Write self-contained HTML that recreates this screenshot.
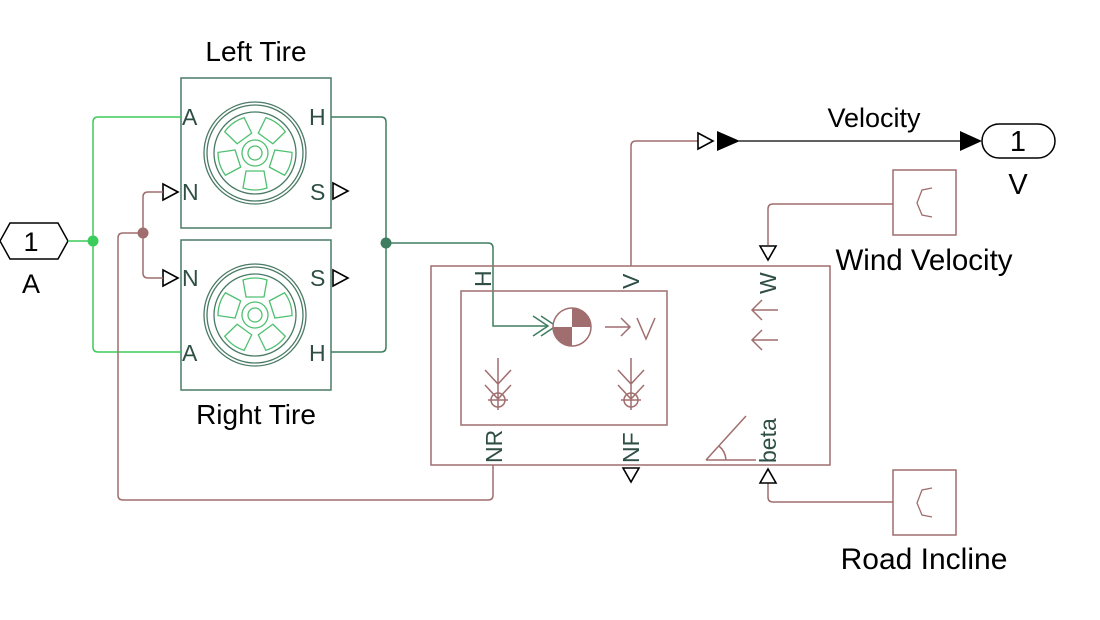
<!DOCTYPE html>
<html><head><meta charset="utf-8"><style>
html,body{margin:0;padding:0;background:#fff;}
svg{display:block;font-family:"Liberation Sans",Arial,sans-serif;}
</style></head><body>
<svg width="1100" height="620" viewBox="0 0 1100 620" xmlns="http://www.w3.org/2000/svg">
<defs>
<g id="wheel" fill="none">
  <circle r="51" stroke="#4a7a66" stroke-width="1.3"/>
  <circle r="48" stroke="#4a7a66" stroke-width="1.3"/>
  <circle r="41" stroke="#4a7a66" stroke-width="1.3"/>
  <circle r="13" stroke="#4fc070" stroke-width="1.3"/>
  <circle r="7" stroke="#4fc070" stroke-width="1.3"/>
  <g stroke="#4fc070" stroke-width="1.3">
    <path id="sp" d="M-9,-18 L9,-18 L12,-35 Q0,-39 -12,-35 Z"/>
    <use href="#sp" transform="rotate(72)"/>
    <use href="#sp" transform="rotate(144)"/>
    <use href="#sp" transform="rotate(216)"/>
    <use href="#sp" transform="rotate(288)"/>
  </g>
</g>
</defs>

<rect x="181" y="78" width="150" height="150" fill="#fff" stroke="#4a7a66" stroke-width="1.5"/>
<rect x="181" y="240" width="150" height="150" fill="#fff" stroke="#4a7a66" stroke-width="1.5"/>
<use href="#wheel" transform="translate(255,153) rotate(180)"/>
<use href="#wheel" transform="translate(255,315)"/>
<g font-size="23" fill="#2f4f46">
<text x="182" y="125">A</text><text x="309" y="125">H</text>
<text x="182" y="200">N</text><text x="310" y="200">S</text>
<text x="182" y="286">N</text><text x="310" y="286">S</text>
<text x="182" y="361">A</text><text x="309" y="361">H</text>
</g>
<text x="256" y="61" font-size="28" text-anchor="middle" fill="#000">Left Tire</text>
<text x="256" y="424" font-size="28" text-anchor="middle" fill="#000">Right Tire</text>
<g fill="#fff" stroke="#000" stroke-width="1.6">
<path d="M333,183 L348,191 L333,199 Z"/><path d="M333,270 L348,278 L333,286 Z"/>
<path d="M163,184 L178,192 L163,200 Z"/><path d="M163,270 L178,278 L163,286 Z"/>
</g>

<path d="M0,241 L10,223 L58,223 L68,241 L58,259 L10,259 Z" fill="#fff" stroke="#000" stroke-width="1.5"/>
<text x="31" y="251" font-size="27" text-anchor="middle">1</text>
<text x="31" y="293" font-size="27" text-anchor="middle">A</text>

<g fill="none" stroke="#3ccc5c" stroke-width="1.5">
<path d="M68,241 H93"/>
<path d="M181,117 H98 Q93,117 93,122 V347 Q93,352 98,352 H181"/>
</g>
<circle cx="93" cy="241" r="5.5" fill="#3ccc5c"/>

<g fill="none" stroke="#a06e6e" stroke-width="1.5">
<path d="M163,192 H148 Q143,192 143,197 V273 Q143,278 148,278 H163"/>
<path d="M143,233 H123 Q118,233 118,238 V495 Q118,500 123,500 H488 Q493,500 493,495 V465"/>
<path d="M631,266 V146 Q631,141 636,141 H698"/>
<path d="M893,204 H773 Q768,204 768,209 V245"/>
<path d="M893,502 H773 Q768,502 768,497 V483"/>
</g>
<circle cx="143" cy="233" r="5.5" fill="#a06e6e"/>

<g fill="none" stroke="#3f7d60" stroke-width="1.5">
<path d="M331,117 H381 Q386,117 386,122 V347 Q386,352 381,352 H331"/>
<path d="M386,243 H488 Q493,243 493,248 V326 H548"/>
<path d="M533,316 L548,326 L533,336 M541,316 L556,326 L541,336"/>
</g>
<circle cx="386" cy="243" r="5.5" fill="#3f7d60"/>

<rect x="431" y="266" width="399" height="199" fill="none" stroke="#a06e6e" stroke-width="1.5"/>
<rect x="461" y="291" width="206" height="134" fill="none" stroke="#a06e6e" stroke-width="1.5"/>
<circle cx="572" cy="327" r="19" fill="#fff" stroke="#a06e6e" stroke-width="1.5"/>
<path d="M572,327 V308 A19,19 0 0 1 591,327 Z" fill="#a06e6e"/>
<path d="M572,327 H553 A19,19 0 0 0 572,346 Z" fill="#a06e6e"/>
<g fill="none" stroke="#a06e6e" stroke-width="1.5">
<path d="M605,327 H630 M621,318 L630,327 L621,336"/>
<path d="M637,318 L646,339 L655,318"/>
<path d="M498,358 V410 M485,370 L498,384 L511,370 M485,385 L498,399 L511,385"/>
<circle cx="498" cy="400" r="7"/><path d="M488,400 H508"/>
<path d="M631,358 V410 M618,370 L631,384 L644,370 M618,385 L631,399 L644,385"/>
<circle cx="631" cy="400" r="7"/><path d="M621,400 H641"/>
<path d="M778,310 H752 M762,300 L752,310 L762,320"/>
<path d="M778,340 H752 M762,330 L752,340 L762,350"/>
<path d="M706,460 L746,416 M706,460 H756 M726,460 A20,20 0 0 0 719,446"/>
</g>
<g font-size="23" fill="#2f4f46">
<text transform="translate(491,287) rotate(-90)">H</text>
<text transform="translate(639,289) rotate(-90)">V</text>
<text transform="translate(776,294) rotate(-90)">W</text>
<text transform="translate(502,463) rotate(-90)">NR</text>
<text transform="translate(639,463) rotate(-90)">NF</text>
<text transform="translate(776,463) rotate(-90)">beta</text>
</g>
<g fill="#fff" stroke="#000" stroke-width="1.6">
<path d="M760,246 L768,260 L776,246 Z"/>
<path d="M623,468 L631,482 L639,468 Z"/>
<path d="M760,483 L768,469 L776,483 Z"/>
</g>

<path d="M698,133 L713,141 L698,149 Z" fill="#fff" stroke="#000" stroke-width="1.6"/>
<path d="M717,131 L740,141 L717,151 Z" fill="#000"/>
<path d="M739,141 H965" stroke="#000" stroke-width="1.3"/>
<path d="M960,131 L982,141 L960,151 Z" fill="#000"/>
<text x="874" y="127" font-size="27" text-anchor="middle">Velocity</text>
<rect x="982" y="124" width="73" height="34" rx="17" fill="#fff" stroke="#000" stroke-width="1.5"/>
<text x="1018" y="151" font-size="29" text-anchor="middle">1</text>
<text x="1018" y="194" font-size="29" text-anchor="middle">V</text>

<rect x="893" y="170" width="63" height="65" fill="#fff" stroke="#a06e6e" stroke-width="1.5"/>
<path d="M932,188 L922,190 L917,203 L922,215 L932,217" fill="none" stroke="#a06e6e" stroke-width="1.3"/>
<text x="924" y="270" font-size="29.5" text-anchor="middle">Wind Velocity</text>
<rect x="893" y="470" width="63" height="65" fill="#fff" stroke="#a06e6e" stroke-width="1.5"/>
<path d="M932,488 L922,490 L917,503 L922,515 L932,517" fill="none" stroke="#a06e6e" stroke-width="1.3"/>
<text x="924" y="569" font-size="30" text-anchor="middle">Road Incline</text>
</svg>
</body></html>
